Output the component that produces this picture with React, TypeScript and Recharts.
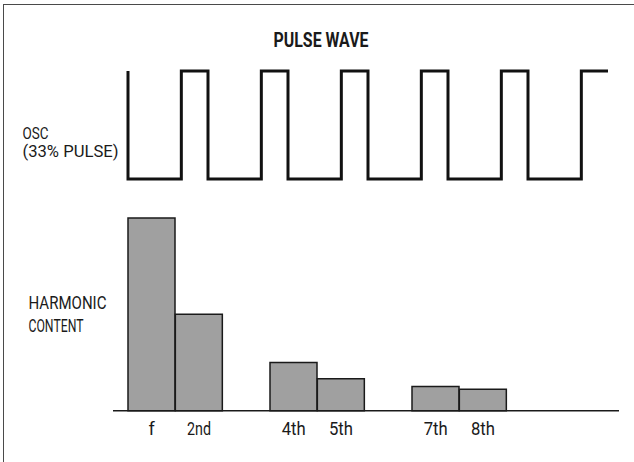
import { Bar, BarChart, Line, LineChart, XAxis, YAxis } from "recharts";

// harmonic spectrum of a 33% pulse (3rd, 6th, 9th are missing)
const harmonics = ["f", "2nd", "3rd", "4th", "5th", "6th", "7th", "8th", "9th"];
const harmonicLevels = [100, 50, 0, 25, 16.6, 0, 12.5, 11.1, 0];
const harmonicLabels = ["f", "2nd", "", "4th", "5th", "", "7th", "8th", ""];

// pulse wave: time in thirds of a period, level 1 = high
const waveTimes = [0, 0, 2, 2, 3, 3, 5, 5, 6, 6, 8, 8, 9, 9, 11, 11, 12, 12, 14, 14, 15, 15, 17, 17, 18];
const waveLevels = [1, 0, 0, 1, 1, 0, 0, 1, 1, 0, 0, 1, 1, 0, 0, 1, 1, 0, 0, 1, 1, 0, 0, 1, 1];

const FONT = 'Roboto, "Liberation Sans", sans-serif';
const INK = "#1a1a1a";

function HarmonicTick({ x, y, index }: any) {
  const label = harmonicLabels[index];
  if (!label) return null;
  return (
    <text
      x={x}
      y={y + 16.5}
      textAnchor="middle"
      fontFamily={FONT}
      fontSize={18}
      fill={INK}
      textLength={label.length > 1 ? 24 : undefined}
      lengthAdjust="spacingAndGlyphs"
    >
      {label}
    </text>
  );
}

export default function App() {
  const waveData = waveTimes.map((t, i) => ({ t, level: waveLevels[i] }));
  const barData = harmonics.map((name, i) => ({ name, level: harmonicLevels[i] }));

  return (
    <div style={{ position: "absolute", left: 0, top: 0, width: 634, height: 462, overflow: "hidden", background: "#fff" }}>
      <div
        style={{
          position: "absolute",
          left: 3,
          top: 4,
          width: 700,
          height: 600,
          borderLeft: "1.5px solid #4a4a4a",
          borderTop: "1.5px solid #4a4a4a",
        }}
      />

      <div style={{ position: "absolute", left: 0, top: 0 }}>
        <LineChart width={634} height={200} data={waveData} margin={{ top: 71, left: 128, right: 26, bottom: 21 }}>
          <XAxis dataKey="t" type="number" domain={[0, 18]} hide />
          <YAxis type="number" domain={[0, 1]} hide />
          <Line
            type="linear"
            dataKey="level"
            stroke="#111"
            strokeWidth={3}
            strokeLinejoin="miter"
            dot={false}
            isAnimationActive={false}
          />
        </LineChart>
      </div>

      <div style={{ position: "absolute", left: 0, top: 0 }}>
        <BarChart
          width={634}
          height={462}
          data={barData}
          barCategoryGap={0}
          margin={{ top: 218, left: 113, right: 15, bottom: 0 }}
        >
          <XAxis
            dataKey="name"
            height={51.3}
            padding={{ left: 15, right: 65 }}
            axisLine={{ stroke: INK, strokeWidth: 1.5 }}
            tickLine={false}
            interval={0}
            tick={<HarmonicTick />}
          />
          <YAxis type="number" domain={[0, 100]} hide />
          <Bar dataKey="level" fill="#a0a0a0" stroke={INK} strokeWidth={1.5} isAnimationActive={false} />
        </BarChart>
      </div>

      <svg width={634} height={462} style={{ position: "absolute", left: 0, top: 0, pointerEvents: "none" }}>
        <g fontFamily={FONT} fill={INK}>
          <text x={273.5} y={46.5} fontSize={20} fontWeight="bold" textLength={95} lengthAdjust="spacingAndGlyphs">
            PULSE WAVE
          </text>
          <text x={22.5} y={138.5} fontSize={17} textLength={26} lengthAdjust="spacingAndGlyphs">
            OSC
          </text>
          <text x={22.5} y={157} fontSize={17} textLength={96} lengthAdjust="spacingAndGlyphs">
            (33% PULSE)
          </text>
          <text x={28.5} y={308.5} fontSize={18.5} textLength={78} lengthAdjust="spacingAndGlyphs">
            HARMONIC
          </text>
          <text x={28.5} y={331.5} fontSize={18.5} textLength={55} lengthAdjust="spacingAndGlyphs">
            CONTENT
          </text>
        </g>
      </svg>
    </div>
  );
}
